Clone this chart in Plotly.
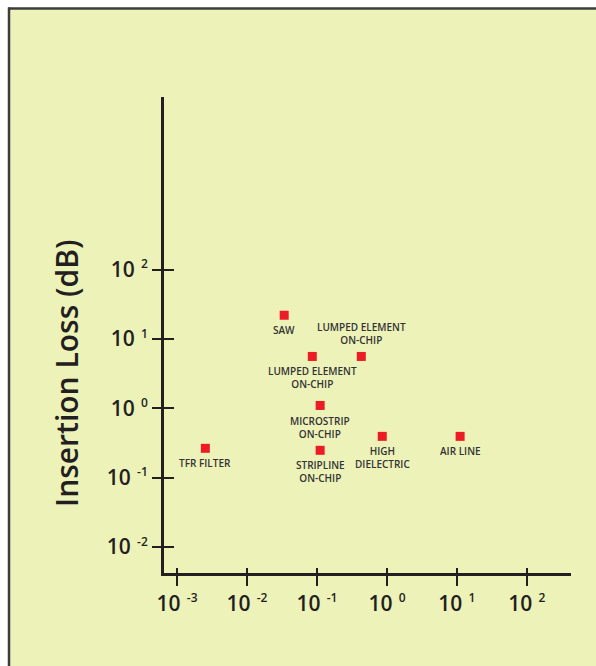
import numpy as np
import plotly.graph_objects as go

# ---- data ----
labels = ["SAW", "LUMPED ELEMENT<br>ON-CHIP", "LUMPED ELEMENT<br>ON-CHIP",
          "MICROSTRIP<br>ON-CHIP", "STRIPLINE<br>ON-CHIP", "HIGH<br>DIELECTRIC",
          "AIR LINE", "TFR FILTER"]
x_vals = [0.034, 0.0857, 0.43, 0.111, 0.111, 0.857, 11.1, 0.00254]
y_vals = [22.0, 5.6, 5.6, 1.1, 0.248, 0.394, 0.394, 0.265]
x_tick_exps = [-3, -2, -1, 0, 1, 2]
y_tick_exps = [-2, -1, 0, 1, 2]
y_title = "Insertion Loss (dB)"

# label vertical offsets (px, positive = below marker)
label_dy = [15, 21, -22.5, 22, 21.5, 21, 15, 15]

BG = "#EDF2B9"
INK = "#231F20"
W, H = 596, 666
L, R, T, B = 164, 25, 97, 93
pw, ph = W - L - R, H - T - B

def px_x(p):
    return (p - L) / pw

def px_y(p):
    return (H - B - p) / ph

xr = [-3.186, 2.63]
yr = [-2.375, 4.49]

fig = go.Figure()
fig.add_trace(go.Scatter(
    x=x_vals, y=y_vals, mode="markers",
    marker=dict(symbol="square", size=9, color="#ED1C24", line=dict(width=0)),
    hoverinfo="skip", showlegend=False))
fig.add_trace(go.Scatter(x=[1], y=[1], xaxis="x2", yaxis="y2", mode="markers",
                         marker=dict(opacity=0), showlegend=False, hoverinfo="skip"))

for lab, xv, yv, dy in zip(labels, x_vals, y_vals, label_dy):
    fig.add_annotation(x=np.log10(xv), y=np.log10(yv), xref="x", yref="y",
                       text=lab, showarrow=False, xanchor="center", yanchor="middle",
                       yshift=-dy,
                       font=dict(family="Open Sans", size=10, color="#333333", weight=600))

fig.add_annotation(x=px_x(67), y=px_y(373), xref="paper", yref="paper",
                   text=y_title, textangle=-90, showarrow=False,
                   xanchor="center", yanchor="middle",
                   font=dict(family="Open Sans", size=30, color=INK, weight=600))

tickfont = dict(family="Open Sans", size=21, color=INK, weight=600)
xt = [10.0 ** e for e in x_tick_exps]
yt = [10.0 ** e for e in y_tick_exps]

def tick_text(e):
    return f"10<sup><span style='font-size:12px'>  {e}</span></sup>"

xtt = [tick_text(e) for e in x_tick_exps]
ytt = [tick_text(e) for e in y_tick_exps]

fig.update_layout(
    width=W, height=H, margin=dict(l=L, r=R, t=T, b=B),
    paper_bgcolor=BG, plot_bgcolor=BG,
    xaxis=dict(type="log", range=xr, tickvals=xt, ticktext=xtt, ticks="outside",
               ticklen=10, tickwidth=1.5, tickcolor=INK, showline=True, linewidth=3,
               linecolor=INK, showgrid=False, zeroline=False, tickfont=tickfont,
               fixedrange=True),
    yaxis=dict(type="log", range=yr, tickvals=yt, ticktext=ytt, ticks="outside",
               ticklen=9, tickwidth=1.5, tickcolor=INK, showline=True, linewidth=3,
               linecolor=INK, showgrid=False, zeroline=False, tickfont=tickfont,
               fixedrange=True),
    xaxis2=dict(type="log", range=xr, tickvals=xt, ticks="inside", ticklen=5,
                tickwidth=1.5, tickcolor=INK, showticklabels=False, showline=False,
                showgrid=False, zeroline=False, overlaying="x", anchor="y", side="bottom",
                fixedrange=True),
    yaxis2=dict(type="log", range=yr, tickvals=yt, ticks="inside", ticklen=10,
                tickwidth=1.5, tickcolor=INK, showticklabels=False, showline=False,
                showgrid=False, zeroline=False, overlaying="y", anchor="x", side="left",
                fixedrange=True),
    shapes=[
        dict(type="rect", xref="paper", yref="paper", x0=px_x(-5), x1=px_x(W + 5),
             y0=px_y(8), y1=px_y(-5), fillcolor="white", line=dict(width=0), layer="below"),
        dict(type="rect", xref="paper", yref="paper", x0=px_x(-5), x1=px_x(8),
             y0=px_y(H + 5), y1=px_y(-5), fillcolor="white", line=dict(width=0), layer="below"),
        dict(type="line", xref="paper", yref="paper", x0=px_x(8), x1=px_x(W + 5),
             y0=px_y(8.5), y1=px_y(8.5), line=dict(color="#3C3C3C", width=2.5), layer="below"),
        dict(type="line", xref="paper", yref="paper", x0=px_x(9), x1=px_x(9),
             y0=px_y(7.5), y1=px_y(H + 5), line=dict(color="#3C3C3C", width=2.5), layer="below"),
    ],
)

fig.write_html("out.html", config={"displayModeBar": False},
               post_script="document.body.style.margin='0';document.body.style.overflow='hidden';")
